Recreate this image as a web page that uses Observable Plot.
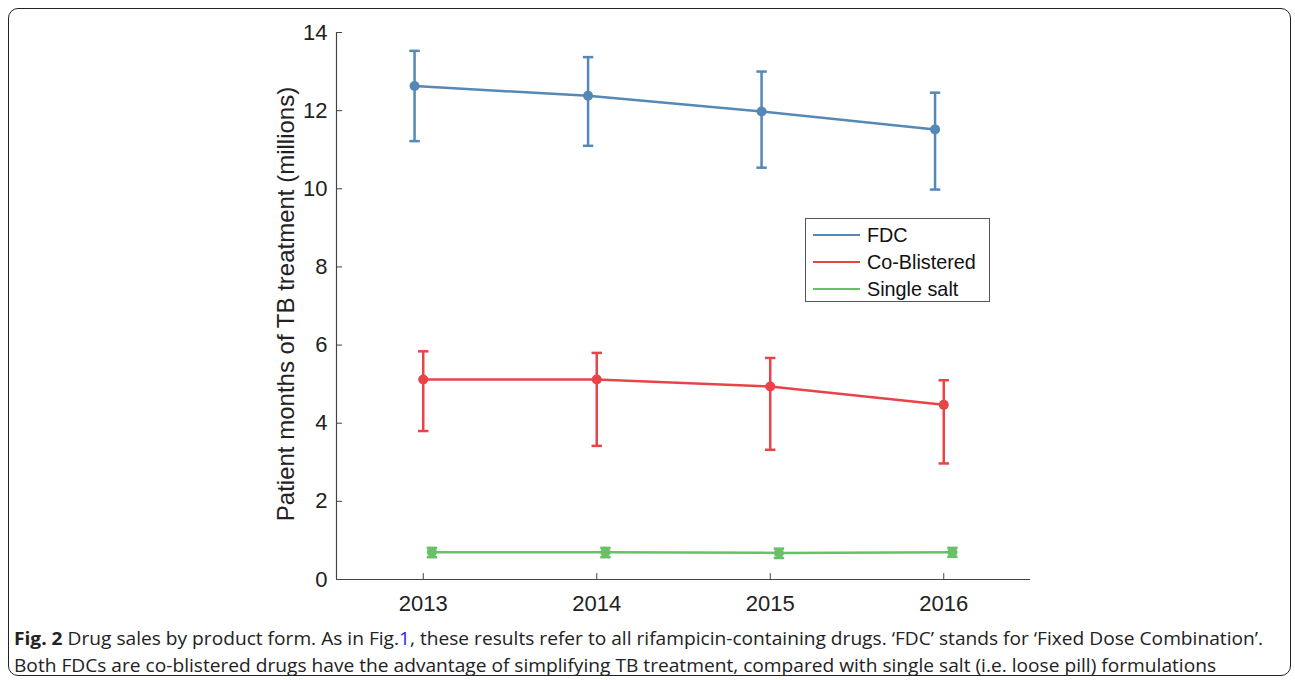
<!DOCTYPE html>
<html>
<head>
<meta charset="utf-8">
<script src="https://cdn.jsdelivr.net/npm/d3@7"></script>
<script src="https://cdn.jsdelivr.net/npm/@observablehq/plot@0.6"></script>
<style>
  html, body { margin: 0; padding: 0; background: #fff; }
  #wrap { position: relative; width: 1295px; height: 680px; }
  #frame { position: absolute; left: 8px; top: 8px; width: 1283px; height: 668px; border: 1.5px solid #222; border-radius: 10px; box-sizing: border-box; }
  #chart { position: absolute; left: 0; top: 0; }
  #ylabel { position: absolute; left: 286px; top: 304px; transform: translate(-50%, -50%) rotate(-90deg); white-space: nowrap; font-family: "Liberation Sans", Arial, sans-serif; font-size: 24px; color: #222; }
  #legend { position: absolute; left: 805px; top: 218px; width: 185px; height: 84px; border: 1px solid #555; box-sizing: border-box; background: #fff; font-family: "Liberation Sans", Arial, sans-serif; font-size: 19.8px; color: #111; }
  .lg { position: absolute; left: 7px; height: 24px; display: flex; align-items: center; }
  .lg span.sw { display: inline-block; width: 47px; height: 0; border-top: 2px solid; margin-right: 7px; }
  #caption { position: absolute; left: 14px; top: 625px; font-family: "Open Sans", sans-serif; font-size: 18px; line-height: 27px; color: #222; white-space: nowrap; transform-origin: 0 0; }
  #caption a { color: #1a1aff; text-decoration: none; }
</style>
</head>
<body>
<div id="wrap">
  <div id="frame"></div>
  <div id="chart"></div>
  <div id="ylabel">Patient months of TB treatment (millions)</div>
  <div id="legend"></div>
  <div id="caption"></div>
</div>
<script>
const years = [2013, 2014, 2015, 2016];
const seriesNames = ["FDC", "Co-Blistered", "Single salt"];
const seriesColors = ["#5588b5", "#e84448", "#6abf69"];
const seriesOffsets = [-0.05, 0, 0.05];
const fdc = [12.63, 12.38, 11.98, 11.52];
const fdcLo = [11.22, 11.10, 10.54, 9.98];
const fdcHi = [13.53, 13.37, 13.00, 12.46];
const cob = [5.12, 5.12, 4.94, 4.47];
const cobLo = [3.80, 3.42, 3.32, 2.97];
const cobHi = [5.84, 5.80, 5.67, 5.10];
const single = [0.70, 0.70, 0.68, 0.70];
const singleLo = [0.57, 0.57, 0.55, 0.58];
const singleHi = [0.81, 0.81, 0.79, 0.81];
const yTicks = [0, 2, 4, 6, 8, 10, 12, 14];
const xDomain = [2012.5, 2016.5];
const yDomain = [0, 14];
const yLabel = "Patient months of TB treatment (millions)";

const values = [fdc, cob, single];
const lows = [fdcLo, cobLo, singleLo];
const highs = [fdcHi, cobHi, singleHi];
const data = [];
seriesNames.forEach((s, i) => {
  years.forEach((yr, j) => {
    data.push({series: s, year: yr, x: yr + seriesOffsets[i], y: values[i][j], lo: lows[i][j], hi: highs[i][j]});
  });
});
const capHalf = 0.03;
const color = {domain: seriesNames, range: seriesColors};

const chart = Plot.plot({
  width: 1295,
  height: 620,
  marginLeft: 336,
  marginRight: 265,
  marginTop: 32,
  marginBottom: 41,
  style: {fontFamily: "'Liberation Sans', Arial, sans-serif", fontSize: "22px", color: "#222", background: "transparent"},
  x: {domain: xDomain, axis: null},
  y: {domain: yDomain, axis: null},
  color,
  marks: [
    Plot.axisY({ticks: yTicks, tickSize: 0, tickPadding: 9, label: null, fontSize: 22}),
    Plot.axisX({ticks: years, tickSize: 0, tickPadding: 16, tickFormat: d => String(d), label: null, fontSize: 22}),
    Plot.ruleX([xDomain[0]], {y1: yDomain[0], y2: yDomain[1], stroke: "#444", strokeWidth: 1.2}),
    Plot.ruleY([yDomain[0]], {x1: xDomain[0], x2: xDomain[1], stroke: "#444", strokeWidth: 1.2}),
    Plot.ruleY(yTicks, {x1: xDomain[0], x2: xDomain[0] + 0.035, stroke: "#444", strokeWidth: 1}),
    Plot.ruleX(years, {y1: yDomain[0], y2: yDomain[0] + 0.15, stroke: "#444", strokeWidth: 1}),
    Plot.line(data, {x: "x", y: "y", z: "series", stroke: "series", strokeWidth: 2.5}),
    Plot.ruleX(data, {x: "x", y1: "lo", y2: "hi", stroke: "series", strokeWidth: 2.5}),
    Plot.link(data, {x1: d => d.x - capHalf, x2: d => d.x + capHalf, y1: "lo", y2: "lo", stroke: "series", strokeWidth: 2.5}),
    Plot.link(data, {x1: d => d.x - capHalf, x2: d => d.x + capHalf, y1: "hi", y2: "hi", stroke: "series", strokeWidth: 2.5}),
    Plot.dot(data, {x: "x", y: "y", fill: "series", r: 5, stroke: "none"})
  ]
});
document.getElementById("chart").appendChild(chart);

const legend = document.getElementById("legend");
seriesNames.forEach((s, i) => {
  const row = document.createElement("div");
  row.className = "lg";
  row.style.top = (4 + i * 27) + "px";
  const sw = document.createElement("span");
  sw.className = "sw";
  sw.style.borderColor = seriesColors[i];
  row.appendChild(sw);
  row.appendChild(document.createTextNode(s));
  legend.appendChild(row);
});

const cap = document.getElementById("caption");
cap.innerHTML = '<b>Fig. 2</b> Drug sales by product form. As in Fig.<a>1</a>, these results refer to all rifampicin-containing drugs. ‘FDC’ stands for ‘Fixed Dose Combination’.<br>Both FDCs are co-blistered drugs have the advantage of simplifying TB treatment, compared with single salt (i.e. loose pill) formulations';
const targetW = 1249;
const w = cap.getBoundingClientRect().width;
if (w > 0) cap.style.transform = `scaleX(${targetW / w})`;
</script>
</body>
</html>
